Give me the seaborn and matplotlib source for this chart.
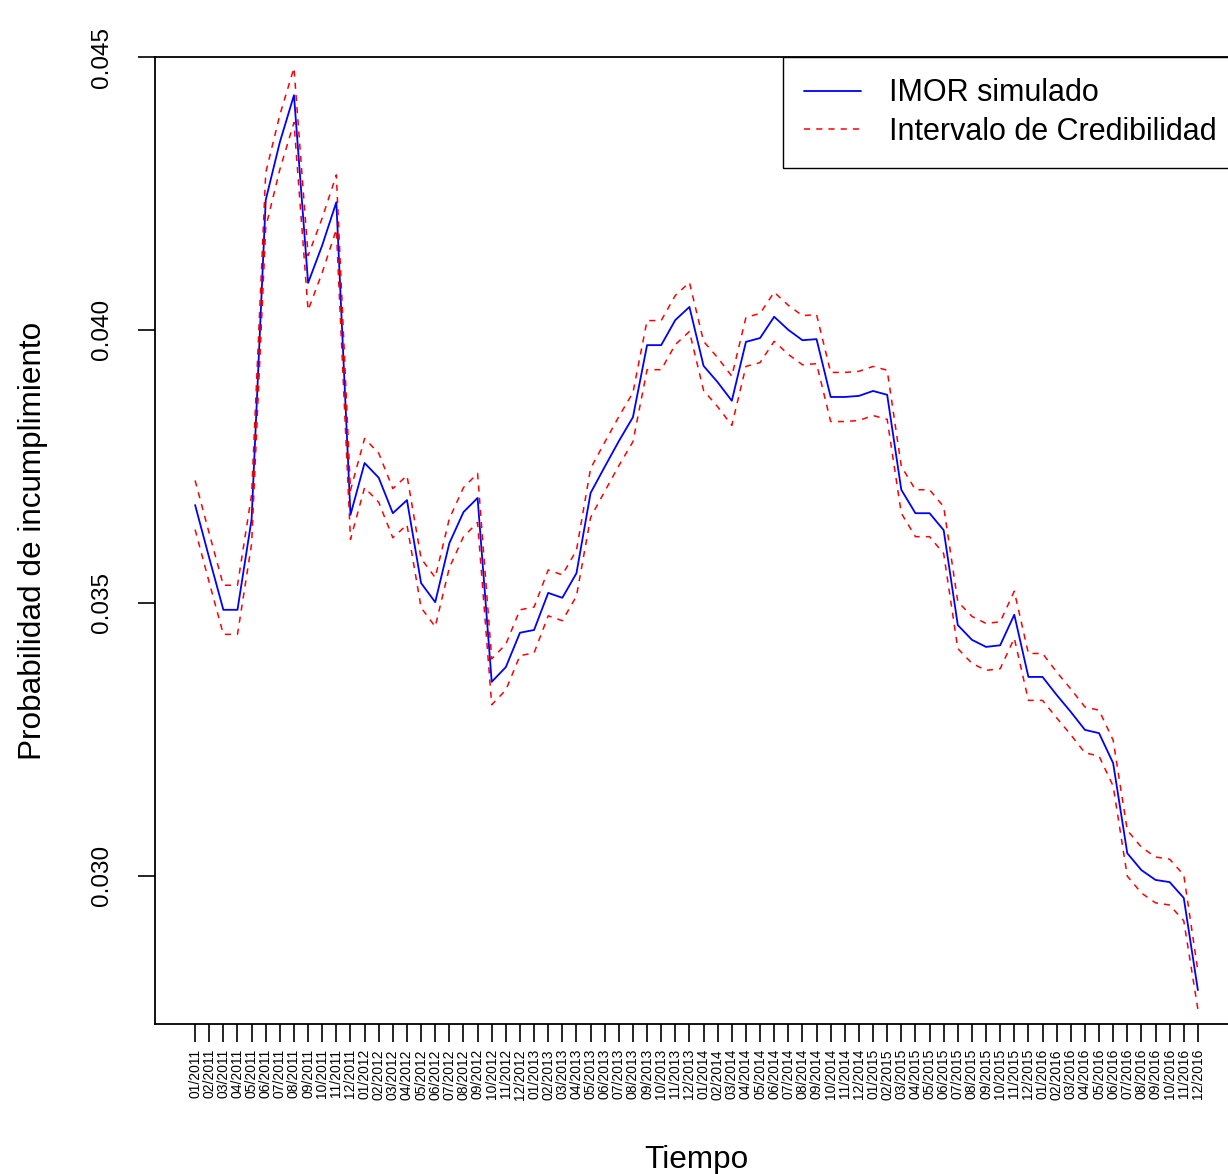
import numpy as np
import pandas as pd
import matplotlib
matplotlib.use("Agg")
import matplotlib.pyplot as plt
import seaborn as sns

# ---- data ----
meses = [f"{m:02d}/{y}" for y in range(2011, 2017) for m in range(1, 13)]

imor = [0.03679, 0.03582, 0.03487, 0.03487, 0.03653, 0.04238, 0.04344, 0.04430,
        0.04086, 0.04155, 0.04234, 0.03661, 0.03756, 0.03729, 0.03664, 0.03688,
        0.03536, 0.03501, 0.03609, 0.03666, 0.03692, 0.03355, 0.03382, 0.03445,
        0.03450, 0.03518, 0.03509, 0.03554, 0.03701, 0.03749, 0.03796, 0.03840,
        0.03972, 0.03972, 0.04018, 0.04042, 0.03934, 0.03904, 0.03870, 0.03978,
        0.03985, 0.04024, 0.04000, 0.03981, 0.03983, 0.03877, 0.03877, 0.03879,
        0.03888, 0.03881, 0.03707, 0.03664, 0.03664, 0.03633, 0.03459, 0.03432,
        0.03419, 0.03422, 0.03478, 0.03364, 0.03364, 0.03331, 0.03300, 0.03267,
        0.03261, 0.03206, 0.03041, 0.03010, 0.02992, 0.02988, 0.02959, 0.02790]

superior = [0.03724, 0.03627, 0.03532, 0.03532, 0.03698, 0.04288, 0.04394, 0.04480,
            0.04136, 0.04205, 0.04284, 0.03706, 0.03801, 0.03774, 0.03709, 0.03733,
            0.03581, 0.03546, 0.03654, 0.03711, 0.03737, 0.03397, 0.03424, 0.03487,
            0.03492, 0.03560, 0.03551, 0.03596, 0.03746, 0.03794, 0.03841, 0.03885,
            0.04017, 0.04017, 0.04063, 0.04087, 0.03979, 0.03949, 0.03915, 0.04023,
            0.04030, 0.04069, 0.04045, 0.04026, 0.04028, 0.03922, 0.03922, 0.03924,
            0.03933, 0.03926, 0.03750, 0.03707, 0.03707, 0.03676, 0.03502, 0.03475,
            0.03462, 0.03465, 0.03521, 0.03407, 0.03407, 0.03373, 0.03342, 0.03309,
            0.03303, 0.03248, 0.03083, 0.03052, 0.03034, 0.03030, 0.03001, 0.02825]

inferior = [0.03634, 0.03537, 0.03442, 0.03442, 0.03608, 0.04188, 0.04294, 0.04380,
            0.04036, 0.04105, 0.04184, 0.03616, 0.03711, 0.03684, 0.03619, 0.03643,
            0.03491, 0.03456, 0.03564, 0.03621, 0.03647, 0.03313, 0.03340, 0.03403,
            0.03408, 0.03476, 0.03467, 0.03512, 0.03656, 0.03704, 0.03751, 0.03795,
            0.03927, 0.03927, 0.03973, 0.03997, 0.03889, 0.03859, 0.03825, 0.03933,
            0.03940, 0.03979, 0.03955, 0.03936, 0.03938, 0.03832, 0.03832, 0.03834,
            0.03843, 0.03836, 0.03664, 0.03621, 0.03621, 0.03590, 0.03416, 0.03389,
            0.03376, 0.03379, 0.03435, 0.03321, 0.03321, 0.03289, 0.03258, 0.03225,
            0.03219, 0.03164, 0.02999, 0.02968, 0.02950, 0.02946, 0.02917, 0.02755]

y_ticks = [0.030, 0.035, 0.040, 0.045]
y_ticklabels = ["0.030", "0.035", "0.040", "0.045"]

# ---- plot ----
sns.set_style("white")
plt.rcParams["font.family"] = ["Liberation Sans", "DejaVu Sans"]
for k in ["text.color", "axes.labelcolor", "xtick.color", "ytick.color",
          "axes.edgecolor"]:
    plt.rcParams[k] = "black"

t = np.arange(1, len(imor) + 1)
df = pd.DataFrame({"t": t, "imor": imor, "sup": superior, "inf": inferior})

fig = plt.figure(figsize=(12.28, 11.74), dpi=100)
ax = fig.add_axes([155 / 1228, 150 / 1174, 1083 / 1228, 967 / 1174])

sns.lineplot(data=df, x="t", y="imor", ax=ax, color="#0000FF", linewidth=1.3,
             label="IMOR simulado")
sns.lineplot(data=df, x="t", y="sup", ax=ax, color="#FF0000", linewidth=1.1,
             linestyle=(0, (4, 4)), label="Intervalo de Credibilidad")
sns.lineplot(data=df, x="t", y="inf", ax=ax, color="#FF0000", linewidth=1.1,
             linestyle=(0, (4, 4)))

ax.set_xlim(1 - 0.04 * 71, 72 + 0.04 * 71)
ax.set_ylim(0.02728, 0.045)

ax.set_yticks(y_ticks)
ax.set_yticklabels(y_ticklabels, rotation=90, va="center", fontsize=17.5)
ax.set_xticks(t)
ax.set_xticklabels(meses, rotation=90, fontsize=10)

ax.tick_params(axis="y", direction="out", length=12.5, width=1.2, pad=18,
               left=True)
ax.tick_params(axis="x", direction="out", length=13, width=1.2, pad=5,
               bottom=True)

for s in ax.spines.values():
    s.set_visible(True)
    s.set_color("black")
    s.set_linewidth(1.3)

ax.set_xlabel("Tiempo", fontsize=22.7)
ax.set_ylabel("Probabilidad de incumplimiento", fontsize=22.7)
ax.xaxis.set_label_coords(0.5, -0.125)
ax.yaxis.set_label_coords(-0.0985, 0.5)

leg = ax.legend(loc="upper right", borderaxespad=0, fancybox=False,
                frameon=True, fontsize=22, handlelength=1.86,
                handletextpad=0.92, borderpad=0.7, labelspacing=0.27)
leg.get_frame().set_edgecolor("black")
leg.get_frame().set_linewidth(1.0)
leg.get_frame().set_alpha(1)

fig.savefig("out.png", dpi=100)
